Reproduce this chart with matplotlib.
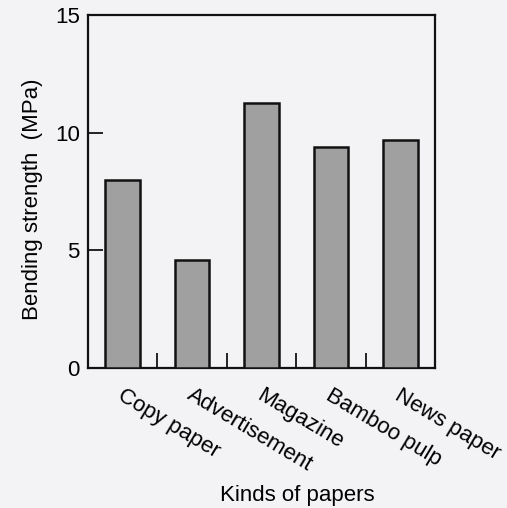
import matplotlib
matplotlib.use("Agg")
import matplotlib.pyplot as plt
import matplotlib.transforms as mtrans
import numpy as np

categories = ["Copy paper", "Advertisement", "Magazine", "Bamboo pulp", "News paper"]
values = [8.0, 4.6, 11.25, 9.4, 9.7]
yticks = [0, 5, 10, 15]

plt.rcParams['font.family'] = ['Liberation Sans', 'DejaVu Sans']

fig = plt.figure(figsize=(5.07, 5.08), dpi=100, facecolor='#f3f3f6')
ax = fig.add_axes([88/507, 1-368/508, (435-88)/507, (368-15)/508])
ax.set_facecolor('#f3f3f6')

x = np.arange(len(categories))
ax.bar(x, values, width=0.5, color='#a0a0a0', edgecolor='#111111', linewidth=1.8, zorder=3)

ax.set_xlim(-0.5, 4.5)
ax.set_ylim(0, 15)
for s in ax.spines.values():
    s.set_linewidth(1.6)
    s.set_color('#111111')

ax.set_yticks(yticks)
ax.set_yticklabels([str(v) for v in yticks], fontsize=16)
ax.tick_params(axis='y', direction='in', length=11, width=1.2, pad=6, left=True)
for t, v in zip(ax.yaxis.get_major_ticks(), yticks):
    if v in (0, 15):
        t.tick1line.set_visible(False)

ax.set_xticks(x)
ax.set_xticklabels(categories, rotation=-31, ha='left', va='top', rotation_mode='anchor', fontsize=16)
ax.tick_params(axis='x', which='major', length=0, pad=12)
offset = mtrans.ScaledTranslation(2/100, 0, fig.dpi_scale_trans)
for lab in ax.get_xticklabels():
    lab.set_transform(lab.get_transform() + offset)

ax.set_xticks(x[:-1] + 0.5, minor=True)
ax.tick_params(axis='x', which='minor', direction='in', length=11, width=1.2)

ax.set_ylabel("Bending strength  (MPa)", fontsize=16)
ax.yaxis.set_label_coords(-0.13, 0.479)
fig.text(297/507, 1-495/508, "Kinds of papers", fontsize=16, ha='center', va='center')

fig.savefig("out.png", dpi=100, facecolor=fig.get_facecolor())
